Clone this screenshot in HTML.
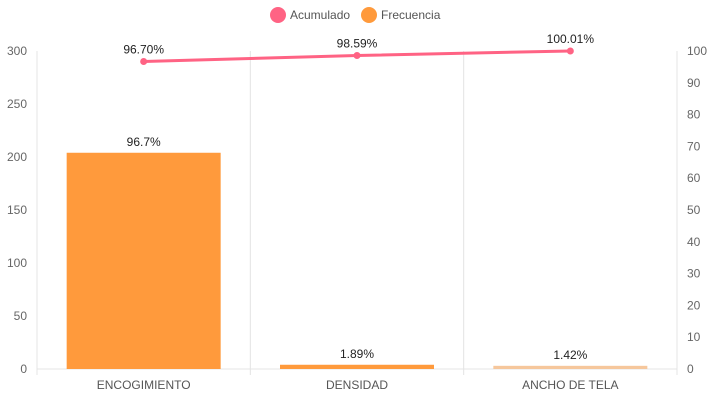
<!DOCTYPE html>
<html><head><meta charset="utf-8"><style>
body{margin:0;background:#fff;font-family:"Liberation Sans",Arial,sans-serif}
</style></head><body>
<svg id="c" width="714" height="400" xmlns="http://www.w3.org/2000/svg" font-family="Liberation Sans, Arial, sans-serif"></svg>
<script>
const categories=["ENCOGIMIENTO","DENSIDAD","ANCHO DE TELA"];
const frecuencia=[204,4,3];
const barLabels=["96.7%","1.89%","1.42%"];
const acumulado=[96.70,98.59,100.01];
const lineLabels=["96.70%","98.59%","100.01%"];
const leftTicks=[0,50,100,150,200,250,300];
const rightTicks=[0,10,20,30,40,50,60,70,80,90,100];
const barColors=["#ff9a3c","#ff9a3c","#f6c79c"];

const svg=document.getElementById('c');
const NS="http://www.w3.org/2000/svg";
const L=37,R=677,T=51,B=369;
const yL=v=>B-(v/300)*(B-T);
const yR=v=>B-(v/100)*(B-T);
const bw=(R-L)/categories.length;
const xC=i=>L+bw*(i+0.5);
function mk(tag,attrs,txt){const e=document.createElementNS(NS,tag);for(const k in attrs)e.setAttribute(k,attrs[k]);if(txt!==undefined)e.textContent=txt;svg.appendChild(e);return e;}

for(let i=0;i<=categories.length;i++){
  const g=mk('line',{x1:L+bw*i,x2:L+bw*i,y1:T,y2:B+6,stroke:'#e4e4e4'});
  
  
}
const base=mk('line',{x1:L,x2:R,y1:B,y2:B,stroke:'#e4e4e4'});



leftTicks.forEach(v=>{
  const t=mk('text',{x:27,y:yL(v)+4,'text-anchor':'end','font-size':12,fill:'#666'},v);
  
  
});
rightTicks.forEach(v=>{
  const t=mk('text',{x:687,y:yR(v)+4,'text-anchor':'start','font-size':12,fill:'#666'},v);
  
  
});

categories.forEach((c,i)=>{
  const w=154;
  const r=mk('rect',{x:xC(i)-w/2,y:yL(frecuencia[i]),width:w,height:B-yL(frecuencia[i]),fill:barColors[i]});
  
  
  const bl=mk('text',{x:xC(i),y:yL(frecuencia[i])-7,'text-anchor':'middle','font-size':12,fill:'#222'},barLabels[i]);
  
  
  const cl=mk('text',{x:xC(i),y:389,'text-anchor':'middle','font-size':12,fill:'#555'},c);
  
  
});

const pts=acumulado.map((v,i)=>xC(i)+','+yR(v)).join(' ');
const pl=mk('polyline',{points:pts,fill:'none',stroke:'#ff6384',"stroke-width":3});


acumulado.forEach((v,i)=>{
  const p=mk('circle',{cx:xC(i),cy:yR(v),r:3.5,fill:'#ff6384'});
  
  
  const t=mk('text',{x:xC(i),y:yR(v)-8,'text-anchor':'middle','font-size':12,fill:'#222'},lineLabels[i]);
  
  
});

const l1=mk('circle',{cx:278,cy:15,r:8,fill:'#ff6384'});


const t1=mk('text',{x:290,y:19,'font-size':12,fill:'#555'},'Acumulado');


const l2=mk('circle',{cx:369,cy:15,r:8,fill:'#ff9a3c'});


const t2=mk('text',{x:381,y:19,'font-size':12,fill:'#555'},'Frecuencia');


</script>
</body></html>
